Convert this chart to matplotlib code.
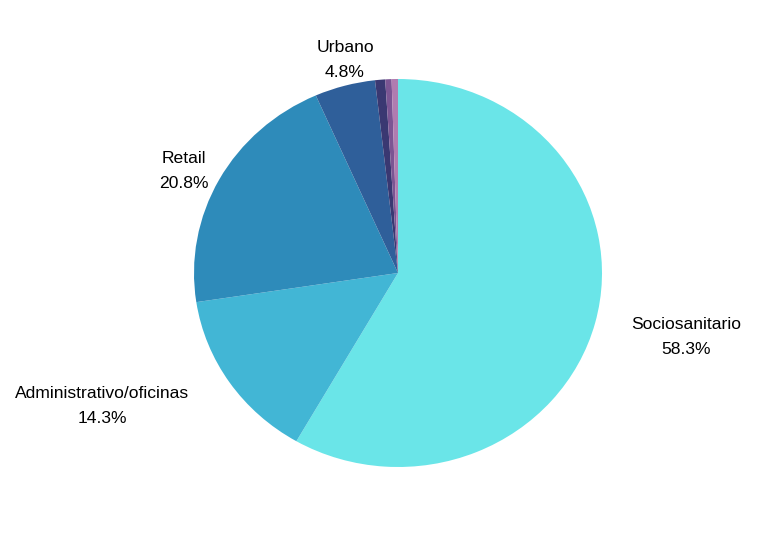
import matplotlib.pyplot as plt

# slice data, clockwise from 12 o'clock
categories = ['Sociosanitario', 'Administrativo/oficinas', 'Retail', 'Urbano',
              'Otros 1', 'Otros 2', 'Otros 3']
shares = [58.3, 14.3, 20.8, 4.8, 0.8, 0.5, 0.5]
show_label = [True, True, True, True, False, False, False]

colors = ['#6ae5e8', '#42b6d5', '#2e8bba', '#2f5f9a', '#3a3872', '#7b5593', '#b07cb0']

# label centres in data units (pie radius = 1)
label_pos = [(1.412, -0.330), (-1.451, -0.685), (-1.049, 0.526), (-0.260, 1.098)]

plt.rcParams['font.family'] = ['Liberation Sans', 'DejaVu Sans']

fig = plt.figure(figsize=(7.83, 5.35), dpi=100)
ax = fig.add_axes([0, 0, 1, 1])

ax.pie(shares, colors=colors, startangle=90, counterclock=False,
       wedgeprops=dict(linewidth=0))

# pie is slightly wider than tall in the reference
ax.set_aspect('auto')
ax.set_xlim(-398 / 204, (783 - 398) / 204)
ax.set_ylim(-262 / 194, 273 / 194)
ax.axis('off')

i = 0
for name, val, show in zip(categories, shares, show_label):
    if not show:
        continue
    x, y = label_pos[i]
    ax.text(x, y, f'{name}\n{val:.1f}%', ha='center', va='center',
            fontsize=12.6, linespacing=1.8, color='#000000')
    i += 1

fig.savefig('out.png', dpi=100, facecolor='white')
